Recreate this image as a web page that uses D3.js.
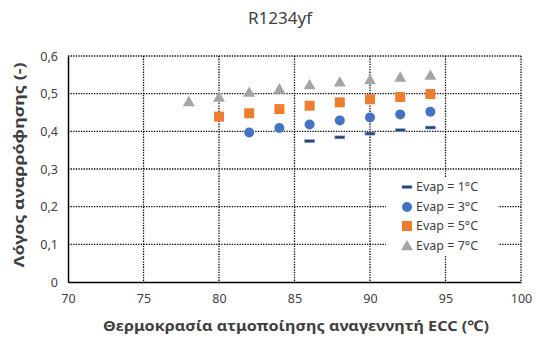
<!DOCTYPE html>
<html><head><meta charset="utf-8">
<script src="https://cdn.jsdelivr.net/npm/d3@7"></script>
<style>body{margin:0;background:#fff}svg{display:block}</style>
</head><body>
<svg id="c" width="539" height="339"></svg>
<script>
const title = "R1234yf";
const xLabel = "Θερμοκρασία ατμοποίησης αναγεννητή ECC (℃)";
const yLabel = "Λόγος αναρρόφησης (-)";
const xTicks = [70, 75, 80, 85, 90, 95, 100];
const yTicks = [0, 0.1, 0.2, 0.3, 0.4, 0.5, 0.6];
const seriesNames = ["Evap = 1°C", "Evap = 3°C", "Evap = 5°C", "Evap = 7°C"];
const x1 = [86, 88, 90, 92, 94];
const y1 = [0.374, 0.384, 0.394, 0.403, 0.410];
const x3 = [82, 84, 86, 88, 90, 92, 94];
const y3 = [0.397, 0.409, 0.418, 0.429, 0.437, 0.445, 0.452];
const x5 = [80, 82, 84, 86, 88, 90, 92, 94];
const y5 = [0.439, 0.448, 0.459, 0.468, 0.477, 0.485, 0.491, 0.499];
const x7 = [78, 80, 82, 84, 86, 88, 90, 92, 94];
const y7 = [0.478, 0.490, 0.503, 0.512, 0.523, 0.530, 0.536, 0.543, 0.548];

const font = "'Noto Sans', 'Open Sans', sans-serif";
const svg = d3.select("#c");
const L = 68, R = 521, T = 56, B = 282;
const x = d3.scaleLinear().domain([70, 100]).range([L, R]);
const y = d3.scaleLinear().domain([0, 0.6]).range([B, T]);

// gridlines
const g = svg.append("g");
g.selectAll("line.h").data(yTicks.filter(d => d > 0)).join("line")
  .attr("x1", L).attr("x2", R).attr("y1", d => y(d)).attr("y2", d => y(d))
  .attr("stroke", "#000").attr("stroke-width", 1.3).attr("stroke-dasharray", "1.3,1.3");
g.selectAll("line.v").data(xTicks.filter(d => d > 70)).join("line")
  .attr("y1", T).attr("y2", B).attr("x1", d => x(d)).attr("x2", d => x(d))
  .attr("stroke", "#000").attr("stroke-width", 1.3).attr("stroke-dasharray", "1.3,1.3");

// axes
const xAxis = d3.axisBottom(x).tickValues(xTicks).tickSize(0).tickPadding(10).tickFormat(d3.format("d"));
const yAxis = d3.axisLeft(y).tickValues(yTicks).tickSize(0).tickPadding(10)
  .tickFormat(d => d === 0 ? "0" : d3.format(".1f")(d).replace(".", ","));
const gx = svg.append("g").attr("transform", `translate(0,${B})`).call(xAxis);
const gy = svg.append("g").attr("transform", `translate(${L},0)`).call(yAxis);
[gx, gy].forEach(a => {
  a.select(".domain").attr("stroke", "#000").attr("stroke-width", 1.5);
  a.selectAll("text").attr("font-family", font).attr("font-size", 12.5).attr("fill", "#404040");
});
gx.selectAll("text").attr("dy", "0.9em");

// series
const dashC = "#264478";
svg.append("g").selectAll("rect").data(x1.map((d, i) => [d, y1[i]])).join("rect")
  .attr("x", d => x(d[0]) - 5).attr("y", d => y(d[1]) - 1.5).attr("width", 10).attr("height", 3)
  .attr("fill", dashC).attr("stroke", "#8fa3c8").attr("stroke-width", 0.6);
svg.append("g").selectAll("circle").data(x3.map((d, i) => [d, y3[i]])).join("circle")
  .attr("cx", d => x(d[0])).attr("cy", d => y(d[1])).attr("r", 5).attr("fill", "#4472C4");
svg.append("g").selectAll("rect").data(x5.map((d, i) => [d, y5[i]])).join("rect")
  .attr("x", d => x(d[0]) - 5).attr("y", d => y(d[1]) - 5).attr("width", 10).attr("height", 10)
  .attr("fill", "#ED7D31");
const tri = d3.symbol().type(d3.symbolTriangle).size(62);
svg.append("g").selectAll("path").data(x7.map((d, i) => [d, y7[i]])).join("path")
  .attr("d", tri).attr("transform", d => `translate(${x(d[0])},${y(d[1]) + 0.8})`).attr("fill", "#A5A5A5");

// legend
svg.append("rect").attr("x", 386).attr("y", 178).attr("width", 112).attr("height", 77).attr("fill", "#fff");
const lg = svg.append("g");
const ly = [187, 207, 226, 246];
lg.append("rect").attr("x", 402).attr("y", ly[0] - 1.5).attr("width", 10).attr("height", 3)
  .attr("fill", dashC).attr("stroke", "#8fa3c8").attr("stroke-width", 0.6);
lg.append("circle").attr("cx", 407).attr("cy", ly[1]).attr("r", 5).attr("fill", "#4472C4");
lg.append("rect").attr("x", 402).attr("y", ly[2] - 5).attr("width", 10).attr("height", 10).attr("fill", "#ED7D31");
lg.append("path").attr("d", tri).attr("transform", `translate(407,${ly[3] + 0.8})`).attr("fill", "#A5A5A5");
lg.selectAll("text").data(seriesNames).join("text")
  .attr("x", 416).attr("y", (d, i) => ly[i]).attr("dy", "0.35em")
  .attr("font-family", font).attr("font-size", 12.5).attr("fill", "#404040").text(d => d);

// titles
svg.append("text").attr("x", 280).attr("y", 24).attr("text-anchor", "middle")
  .attr("font-family", font).attr("font-size", 17).attr("fill", "#404040").text(title);
svg.append("text").attr("x", 296).attr("y", 331).attr("text-anchor", "middle")
  .attr("font-family", font).attr("font-size", 14.5).attr("font-weight", "bold").attr("fill", "#404040")
  .attr("textLength", 386).attr("lengthAdjust", "spacingAndGlyphs").text(xLabel);
svg.append("text").attr("transform", "translate(24,165) rotate(-90)").attr("text-anchor", "middle")
  .attr("font-family", font).attr("font-size", 14.5).attr("font-weight", "bold").attr("fill", "#404040")
  .attr("textLength", 205).attr("lengthAdjust", "spacingAndGlyphs").text(yLabel);
</script>
</body></html>
